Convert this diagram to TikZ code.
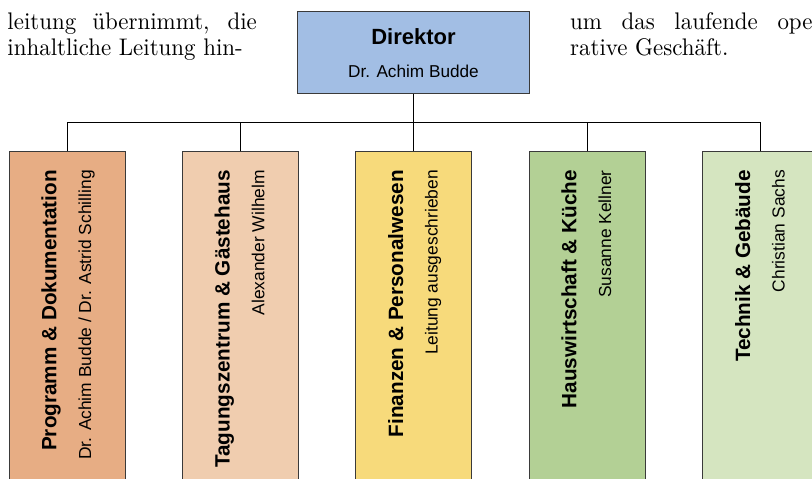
\documentclass[tikz,border=0pt]{standalone}
\usepackage{fontspec}
\setsansfont{Liberation Sans}
\newfontfamily\bodyserif{lmroman10-regular}[Extension=.otf, FakeStretch=0.955]
\definecolor{cDir}{HTML}{A2BEE4}
\definecolor{cA}{HTML}{E7AD84}
\definecolor{cB}{HTML}{F0CDAF}
\definecolor{cC}{HTML}{F7DA7B}
\definecolor{cD}{HTML}{B3D095}
\definecolor{cE}{HTML}{D5E5C0}
\definecolor{boxline}{HTML}{3A3A3A}
\begin{document}
\begin{tikzpicture}[x=1pt,y=-1pt,
  unitbox/.style={draw=boxline, line width=1pt, minimum width=116pt, minimum height=360pt, inner sep=0pt, anchor=north},
  dirbox/.style={draw=boxline, fill=cDir, line width=1pt, minimum width=231.6pt, minimum height=82pt, inner sep=0pt},
  conn/.style={draw=black, line width=1pt},
  ttl/.style={font=\sffamily\bfseries\fontsize{20.7}{24}\selectfont, rotate=90, anchor=base east, inner sep=0pt},
  sbt/.style={font=\sffamily\fontsize{17.4}{20}\selectfont, rotate=90, anchor=base east, inner sep=0pt},
  body/.style={font=\bodyserif\fontsize{24}{27}\selectfont, anchor=base west, inner sep=0pt}]
\useasboundingbox (0,0) rectangle (812,479);
\clip (0,0) rectangle (812,479);
% surrounding text
\node[body] (l1) at (7.3,29) {\makebox[249.4pt][s]{leitung übernimmt, die}};
\node[body] (l2) at (7.3,56) {inhaltliche Leitung hin-};
\node[body] (r1) at (570,29) {\makebox[250pt][s]{um das laufende ope-}};
\node[body] (r2) at (570,56) {rative Geschäft.};
% director
\node[dirbox] (dir) at (413.5,52) {};
\node[font=\sffamily\bfseries\fontsize{22}{26}\selectfont, anchor=base, inner sep=0pt] (dirT) at (413.5,45) {Direktor};
\node[font=\sffamily\fontsize{17.2}{20}\selectfont, anchor=base, inner sep=0pt] (dirS) at (413.5,77.3) {Dr. Achim Budde};
% units
\node[unitbox, fill=cA] (u1) at (67,151) {};
\node[unitbox, fill=cB] (u2) at (240.3,151) {};
\node[unitbox, fill=cC] (u3) at (413.7,151) {};
\node[unitbox, fill=cD] (u4) at (587,151) {};
\node[unitbox, fill=cE] (u5) at (760.7,151) {};
\node[ttl] (t1) at (56.4,170) {Programm \& Dokumentation};
\node[sbt] (s1) at (91,170) {Dr. Achim Budde / Dr. Astrid Schilling};
\node[ttl] (t2) at (229.7,170) {Tagungszentrum \& Gästehaus};
\node[sbt] (s2) at (264.3,170) {Alexander Wilhelm};
\node[ttl] (t3) at (403.1,170) {Finanzen \& Personalwesen};
\node[sbt] (s3) at (437.7,170) {Leitung ausgeschrieben};
\node[ttl] (t4) at (576.4,170) {Hauswirtschaft \& Küche};
\node[sbt] (s4) at (611,170) {Susanne Kellner};
\node[ttl] (t5) at (750.1,170) {Technik \& Gebäude};
\node[sbt] (s5) at (784.7,170) {Christian Sachs};
% connectors
\coordinate (bus) at (413.5,122);
\draw[conn] (dir.south) -- (dir.south |- bus);
\draw[conn] (u1.north) -- (u1.north |- bus) -- (u5.north |- bus) -- (u5.north);
\draw[conn] (u2.north) -- (u2.north |- bus);
\draw[conn] (u3.north) -- (u3.north |- bus);
\draw[conn] (u4.north) -- (u4.north |- bus);
\end{tikzpicture}
\end{document}
